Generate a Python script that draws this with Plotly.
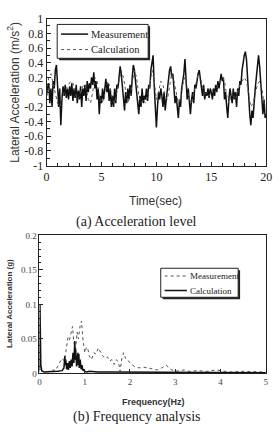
import plotly.graph_objects as go

W, H = 279, 432

# ---------------- (a) time history ----------------
time_meas = [round(i * 0.1, 1) for i in range(201)]
acc_meas = [
    -0.05, 0.08, 0.12, -0.15, 0.05, -0.2, 0.15, 0.05, 0.3, 0.37,
    0.1, -0.2, 0.05, -0.45, -0.1, 0.08, -0.05, 0.1, -0.08, 0.05,
    -0.1, 0.08, -0.05, 0.12, -0.12, 0.05, -0.08, 0.1, -0.15, 0.02,
    -0.1, 0.08, -0.2, 0.05, -0.05, 0.1, -0.12, 0.15, 0.0, 0.12,
    0.05, 0.2, 0.1, 0.27, 0.05, 0.15, -0.1, 0.05, -0.3, -0.05,
    -0.15, 0.05, -0.1, 0.1, 0.18, 0.0, 0.12, -0.12, 0.05, -0.2,
    -0.05, -0.2, 0.05, -0.15, 0.1, 0.05, 0.2, 0.35, 0.25, 0.1,
    -0.1, -0.25, 0.0, -0.15, 0.05, -0.1, 0.1, -0.05, 0.2, 0.37,
    0.3, 0.15, 0.0, -0.15, -0.3, -0.05, -0.2, 0.05, -0.15, -0.05,
    -0.1, 0.05, -0.12, 0.1, 0.05, 0.3, 0.45, 0.5, 0.1, -0.3,
    -0.48, -0.2, 0.0, -0.1, 0.05, -0.05, -0.2, 0.0, -0.25, -0.1,
    0.05, 0.2, 0.3, 0.35, 0.2, 0.25, 0.0, -0.15, -0.05, -0.2,
    -0.35, -0.1, -0.2, 0.05, 0.15, 0.25, 0.45, 0.1, -0.1, 0.05,
    -0.2, -0.3, -0.1, 0.0, -0.15, 0.1, 0.05, 0.2, 0.25, 0.3,
    0.2, 0.1, -0.05, 0.1, -0.1, 0.0, -0.05, 0.05, -0.08, 0.05,
    0.0, -0.1, 0.05, -0.05, 0.1, 0.0, 0.15, 0.05, 0.2, 0.25,
    0.15, 0.2, -0.1, 0.0, -0.2, -0.35, -0.1, 0.05, -0.05, -0.15,
    0.05, -0.1, 0.0, -0.2, 0.05, -0.05, 0.15, 0.1, 0.3, 0.45,
    0.5, 0.55, 0.45, 0.2, -0.1, -0.3, -0.45, -0.25, -0.35, -0.1,
    0.05, 0.2, 0.4, 0.5, 0.35, 0.1, -0.1, -0.3, -0.1, -0.35,
    -0.3,
]

time_calc = [round(i * 0.2, 1) for i in range(101)]
acc_calc = [
    0.0, 0.2, 0.25, 0.1, -0.05, -0.15, -0.2, -0.1, 0.0, 0.05,
    0.1, 0.15, 0.12, 0.0, -0.1, -0.05, 0.05, 0.1, 0.05, -0.1,
    -0.15, 0.0, 0.2, 0.15, -0.05, -0.15, -0.1, 0.05, 0.15, 0.05,
    -0.1, -0.15, 0.0, 0.15, 0.3, 0.2, 0.0, -0.15, -0.05, 0.15,
    0.3, 0.2, -0.05, -0.15, -0.1, -0.15, -0.05, 0.1, 0.3, 0.15,
    -0.1, 0.0, 0.15, 0.1, -0.05, -0.1, 0.1, 0.25, 0.15, 0.0,
    -0.15, -0.1, 0.1, 0.2, 0.05, -0.1, -0.15, 0.0, 0.15, 0.25,
    0.2, 0.05, -0.05, 0.0, -0.05, 0.0, 0.05, 0.0, 0.1, 0.15,
    0.2, 0.15, -0.05, -0.15, -0.05, -0.05, -0.1, 0.0, 0.1, 0.15,
    0.2, 0.15, -0.05, -0.2, -0.15, 0.0, 0.1, 0.15, 0.05, -0.15,
    -0.2,
]

# ---------------- (b) frequency analysis ----------------
freq_meas = [0, 0.02, 0.05, 0.1, 0.2, 0.3, 0.35, 0.4, 0.45, 0.5,
             0.55, 0.6, 0.63, 0.66, 0.7, 0.73, 0.76, 0.8, 0.83, 0.86,
             0.9, 0.93, 0.96, 1.0, 1.04, 1.07, 1.1, 1.15, 1.2, 1.25,
             1.3, 1.35, 1.4, 1.45, 1.5, 1.55, 1.6, 1.65, 1.7, 1.75,
             1.78, 1.82, 1.86, 1.9, 1.95, 2.0, 2.1, 2.2, 2.3, 2.4,
             2.5, 2.6, 2.7, 2.8, 2.9, 3.0, 3.1, 3.2, 3.3, 3.5,
             3.7, 3.9, 4.0, 4.2, 4.5, 4.8, 5.0]
amp_meas = [0.002, 0.012, 0.003, 0.002, 0.003, 0.005, 0.004, 0.01, 0.015, 0.022,
            0.018, 0.04, 0.052, 0.048, 0.06, 0.068, 0.045, 0.035, 0.06, 0.05,
            0.07, 0.076, 0.05, 0.03, 0.038, 0.035, 0.025, 0.02, 0.03, 0.028,
            0.037, 0.03, 0.025, 0.022, 0.024, 0.018, 0.02, 0.013, 0.02, 0.015,
            0.003, 0.022, 0.03, 0.022, 0.02, 0.015, 0.01, 0.008, 0.009, 0.008,
            0.007, 0.005, 0.008, 0.012, 0.006, 0.003, 0.004, 0.005, 0.003, 0.004,
            0.003, 0.005, 0.004, 0.002, 0.003, 0.002, 0.002]

freq_calc = [0, 0.01, 0.03, 0.05, 0.1, 0.2, 0.3, 0.4, 0.5, 0.54,
             0.56, 0.57, 0.58, 0.6, 0.62, 0.64, 0.66, 0.68, 0.7, 0.72,
             0.74, 0.76, 0.77, 0.78, 0.79, 0.8, 0.82, 0.84, 0.85, 0.86,
             0.87, 0.88, 0.9, 0.92, 0.94, 0.96, 0.98, 1.0, 1.05, 1.1,
             1.3, 1.6, 2.0, 2.5, 3.0, 3.5, 4.0, 4.5, 5.0]
amp_calc = [0.005, 0.1, 0.012, 0.004, 0.002, 0.002, 0.002, 0.003, 0.004, 0.008,
            0.025, 0.012, 0.02, 0.006, 0.015, 0.005, 0.018, 0.008, 0.02, 0.01,
            0.03, 0.015, 0.04, 0.047, 0.02, 0.035, 0.01, 0.025, 0.03, 0.012,
            0.028, 0.008, 0.02, 0.006, 0.012, 0.004, 0.006, 0.003, 0.002, 0.003,
            0.002, 0.002, 0.002, 0.002, 0.001, 0.001, 0.002, 0.001, 0.001]

series_names = ["Measurement", "Calculation"]

SOLID = dict(color="#111111", width=1.5)
DOTTED = dict(color="#555555", width=1, dash="dot")

fig = go.Figure()
fig.add_trace(go.Scatter(x=time_meas, y=acc_meas, mode="lines", name=series_names[0],
                         line=SOLID, xaxis="x", yaxis="y"))
fig.add_trace(go.Scatter(x=time_calc, y=acc_calc, mode="lines", name=series_names[1],
                         line=DOTTED, xaxis="x", yaxis="y"))
fig.add_trace(go.Scatter(x=freq_meas, y=amp_meas, mode="lines", name=series_names[0],
                         line=DOTTED, xaxis="x2", yaxis="y2"))
fig.add_trace(go.Scatter(x=freq_calc, y=amp_calc, mode="lines", name=series_names[1],
                         line=SOLID, xaxis="x2", yaxis="y2"))


def px_x(p):
    return p / W


def px_y(p):
    return 1 - p / H


serif = "Liberation Serif, Times New Roman, serif"
sans = "Liberation Sans, Arial, sans-serif"

axis_common = dict(showline=True, linecolor="#222222", linewidth=1, mirror=True,
                   showgrid=False, zeroline=False, ticks="inside", ticklen=4,
                   tickcolor="#222222")

fig.update_layout(
    width=W, height=H,
    margin=dict(l=0, r=0, t=0, b=0),
    paper_bgcolor="white", plot_bgcolor="white",
    showlegend=False,
    xaxis=dict(domain=[px_x(45), px_x(272)], range=[0, 20], tickvals=[0, 5, 10, 15, 20],
               minor=dict(dtick=1, ticks="inside", ticklen=3, tickcolor="#222222"),
               tickfont=dict(family=serif, size=12, color="#222222"), anchor="y",
               **axis_common),
    yaxis=dict(domain=[px_y(164), px_y(12)], range=[-1, 1],
               tickvals=[-1, -0.8, -0.6, -0.4, -0.2, 0, 0.2, 0.4, 0.6, 0.8, 1],
               ticktext=["-1", "-0.8", "-0.6", "-0.4", "-0.2", "0", "0.2", "0.4", "0.6", "0.8", "1"],
               minor=dict(dtick=0.1, ticks="inside", ticklen=3, tickcolor="#222222"),
               tickfont=dict(family=serif, size=12, color="#222222"), anchor="x",
               **axis_common),
    xaxis2=dict(domain=[px_x(37.7), px_x(271.5)], range=[0, 5], dtick=1,
                tickfont=dict(family=serif, size=9, color="#444444"), anchor="y2",
                **axis_common),
    yaxis2=dict(domain=[px_y(378.7), px_y(236)], range=[0, 0.2],
                tickvals=[0, 0.05, 0.1, 0.15, 0.2],
                ticktext=["0", "0.05", "0.1", "0.15", "0.2"],
                minor=dict(dtick=0.01, ticks="inside", ticklen=2, tickcolor="#222222"),
                tickfont=dict(family=serif, size=9, color="#444444"), anchor="x2",
                **axis_common),
)

annotations = [
    dict(text="Lateral Acceleration (m/s<sup>2</sup>)", x=px_x(11), y=px_y(88),
         textangle=-90, font=dict(family=sans, size=12, color="#333333")),
    dict(text="Time(sec)", x=px_x(158), y=px_y(200),
         font=dict(family=sans, size=12, color="#333333")),
    dict(text="(a) Acceleration level", x=px_x(138), y=px_y(222),
         font=dict(family=serif, size=14, color="#222222")),
    dict(text="<b>Lateral Acceleration (g)</b>", x=px_x(6), y=px_y(306),
         textangle=-90, font=dict(family=sans, size=8, color="#333333")),
    dict(text="<b>Frequency(Hz)</b>", x=px_x(155), y=px_y(408),
         font=dict(family=sans, size=9, color="#333333")),
    dict(text="(b) Frequency analysis", x=px_x(138), y=px_y(424),
         font=dict(family=serif, size=14, color="#222222")),
]
for a in annotations:
    a.update(xanchor="center", yanchor="middle")

shapes = []


def add_legend(box, entries, fsize):
    x0, y0, x1, y1 = box
    # drop shadow
    shapes.append(dict(type="rect", x0=px_x(x0 + 2), x1=px_x(x1 + 2),
                       y0=px_y(y1 + 2), y1=px_y(y0 + 2),
                       fillcolor="#222222", line=dict(width=0)))
    shapes.append(dict(type="rect", x0=px_x(x0), x1=px_x(x1), y0=px_y(y1), y1=px_y(y0),
                       fillcolor="white", line=dict(color="#222222", width=1)))
    for (lx0, lx1, ly, style, name) in entries:
        shapes.append(dict(type="line", x0=px_x(lx0), x1=px_x(lx1), y0=px_y(ly), y1=px_y(ly),
                           line=style))
        annotations.append(dict(text=name, x=px_x(lx1 + 1), y=px_y(ly), xanchor="left",
                                yanchor="middle",
                                font=dict(family=serif, size=fsize, color="#222222")))


add_legend((56, 18, 150, 53),
           [(60, 88, 28, SOLID, series_names[0]), (60, 88, 44, DOTTED, series_names[1])], 10.5)
add_legend((163, 270, 243, 300),
           [(167, 190, 278, DOTTED, series_names[0]), (167, 190, 293, SOLID, series_names[1])], 9)

for a in annotations:
    a.update(xref="paper", yref="paper", showarrow=False)
for s in shapes:
    s.update(xref="paper", yref="paper", layer="above")

fig.update_layout(annotations=annotations, shapes=shapes)

fig.write_html("out.html")
